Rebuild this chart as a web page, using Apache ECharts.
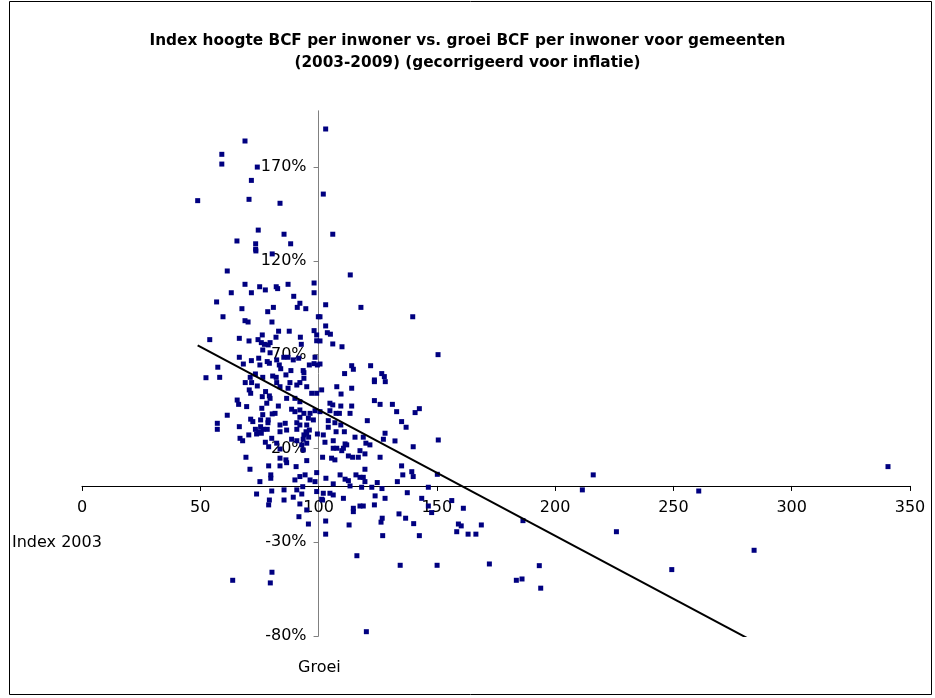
<!DOCTYPE html>
<html>
<head>
<meta charset="utf-8">
<script src="https://cdn.jsdelivr.net/npm/echarts@6/dist/echarts.min.js"></script>
<style>
html,body{margin:0;padding:0;background:#fff;}
#chart{width:935px;height:698px;}
</style>
</head>
<body>
<div id="chart"></div>
<script>
// [Index 2003, Groei %]
const pointsUpper = [[68.9,183.9],[59.1,176.8],[59.1,171.6],[74.1,170.0],[71.6,162.9],[48.9,152.1],[70.6,152.8],[83.7,150.7],[74.5,136.4],[65.5,130.6],[73.4,129.1],[85.4,134.2],[88.2,129.1],[73.4,126.2],[103.0,190.3],[102.0,155.6],[106.0,134.2],[73.5,125.3],[80.4,123.7],[61.4,114.6],[68.9,107.5],[75.1,106.2],[77.5,104.5],[71.6,103.0],[63.1,103.0],[82.1,106.2],[82.7,105.2],[87.1,107.5],[98.1,108.2],[98.1,103.0],[89.5,101.1],[113.4,112.5]];
const pointsMid = [[56.9,98.1],[67.6,94.5],[78.5,92.9],[80.9,95.2],[92.1,97.4],[91.0,95.2],[94.6,94.5],[59.6,90.2],[68.9,88.1],[70.2,87.4],[80.3,87.4],[99.9,90.2],[54.0,78.0],[66.5,78.7],[70.6,77.3],[74.4,78.0],[76.2,80.5],[75.8,76.4],[77.1,75.5],[78.7,75.2],[79.5,76.4],[82.0,79.3],[83.1,82.5],[87.6,82.5],[92.3,79.3],[92.7,75.5],[98.1,82.8],[99.2,80.5],[99.2,77.4],[76.4,72.5],[79.5,71.0],[66.5,68.6],[71.6,66.8],[74.7,68.1],[78.3,66.3],[82.3,67.2],[83.4,64.5],[85.3,68.6],[87.1,68.6],[89.3,67.2],[91.6,68.1],[96.1,64.5],[98.1,65.2],[99.5,64.5],[98.5,68.6],[57.4,63.3],[68.2,65.0],[75.2,64.5],[79.2,65.4],[84.0,62.5],[88.3,61.5],[93.5,61.5],[93.8,60.4],[103.0,96.6],[117.9,95.2],[139.8,90.2],[100.6,90.2],[103.0,85.3],[103.7,81.7],[105.0,80.9],[106.0,75.7],[109.9,74.2],[100.6,77.3],[150.5,70.0],[114.0,64.1],[114.7,62.2],[122.0,64.1],[100.6,65.0]];
const pointsCoreLeft = [[52.4,57.7],[58.2,57.9],[71.1,57.9],[76.4,57.9],[80.6,58.6],[82.1,57.9],[86.2,59.2],[93.8,57.4],[73.3,59.7],[69.0,55.1],[71.7,55.1],[74.1,53.3],[70.7,51.2],[71.3,49.4],[77.6,50.3],[82.3,55.1],[83.7,52.9],[87.1,52.1],[87.9,55.1],[90.8,53.8],[92.1,55.1],[97.1,49.4],[99.2,49.4],[95.0,52.9],[76.2,47.6],[79.2,48.0],[79.5,46.7],[86.5,46.7],[90.0,46.7],[92.1,44.9],[65.6,45.8],[66.2,43.5],[69.6,42.3],[76.0,41.4],[78.1,44.1],[83.0,42.6],[88.6,40.9],[90.0,39.6],[92.1,40.5],[93.8,38.7],[96.4,38.7],[98.5,40.1],[61.4,37.7],[76.4,38.0],[80.4,38.4],[81.6,38.7],[92.1,36.6],[95.7,36.1],[71.3,35.6],[72.2,34.3],[75.5,35.2],[78.7,35.2],[57.2,33.4],[57.2,30.2],[66.5,31.6],[75.5,31.6],[78.6,33.7],[83.7,32.5],[85.9,33.4],[90.8,33.7],[92.1,32.5],[95.0,32.5],[97.8,35.2],[73.3,30.2],[74.7,28.9],[76.6,30.2],[78.3,30.2],[83.7,28.9],[86.5,29.8],[90.8,30.2],[94.7,28.9],[96.1,29.8],[70.5,27.2],[73.8,27.7],[75.8,28.1],[93.8,27.2],[95.0,28.1],[99.5,27.7],[66.8,25.4],[67.9,24.1],[80.2,25.4],[88.6,24.9],[90.8,24.1],[93.5,24.9],[95.8,26.0],[77.5,23.3],[82.3,22.8],[92.9,21.9],[95.0,22.8],[78.9,20.9]];
const pointsCoreRight = [[111.0,59.9],[126.7,59.9],[127.8,58.3],[123.6,56.5],[107.7,52.9],[114.0,52.1],[101.3,51.2],[109.5,49.0],[123.6,55.6],[128.2,55.6],[123.6,45.5],[126.0,43.5],[131.2,43.5],[104.8,44.1],[106.0,43.2],[109.4,42.6],[114.0,42.6],[113.3,38.7],[133.0,39.6],[140.8,39.1],[142.6,41.2],[100.6,39.6],[104.8,40.1],[107.4,38.7],[108.8,38.7],[104.1,34.8],[106.9,33.7],[109.4,32.5],[120.6,34.8],[135.1,34.3],[137.0,31.3],[104.1,31.3],[107.4,28.9],[110.9,28.9],[128.1,28.1],[102.0,27.2],[115.4,26.0],[118.9,26.0],[127.4,24.9],[132.3,24.0],[150.6,24.5],[102.7,23.3],[106.2,24.1],[111.2,22.4],[120.0,22.8],[121.7,21.9],[140.0,20.9],[106.2,20.1],[107.7,20.1],[110.5,20.1],[111.9,21.9]];
const pointsLow = [[83.7,19.7],[93.5,19.2],[69.3,15.3],[83.7,14.8],[86.2,13.9],[95.0,13.5],[78.9,10.7],[83.7,10.7],[86.5,12.4],[90.5,10.3],[71.0,8.9],[79.8,5.9],[79.8,4.1],[92.1,5.0],[94.3,5.9],[99.2,7.1],[75.2,2.3],[90.0,3.2],[96.4,3.2],[98.5,2.3],[93.3,-0.4],[73.8,-4.3],[80.2,-2.7],[85.4,-2.1],[90.8,-2.1],[99.2,-3.0],[79.2,-7.5],[85.4,-7.5],[89.3,-6.0],[92.1,-9.6],[78.9,-10.1],[92.9,-4.3],[101.3,-7.1],[117.5,18.8],[119.6,17.1],[126.0,15.3],[112.6,16.0],[114.4,15.3],[116.8,15.3],[109.8,18.8],[105.5,14.8],[106.9,13.9],[101.7,15.3],[135.1,10.7],[119.6,8.9],[139.4,7.6],[140.0,5.0],[135.6,5.9],[150.2,6.2],[109.1,5.9],[115.8,5.9],[117.5,4.6],[118.9,4.6],[133.3,2.3],[103.1,4.1],[111.2,3.6],[112.6,2.8],[119.6,2.3],[124.8,1.8],[106.2,1.1],[113.3,0.0],[118.2,-0.7],[122.5,-0.7],[126.8,-1.4],[146.4,-0.7],[137.5,-3.6],[102.0,-3.9],[104.8,-3.9],[106.2,-4.8],[110.5,-6.6],[123.9,-5.3],[128.1,-6.6],[143.6,-6.6],[156.3,-7.8],[101.7,-7.5],[114.7,-11.9],[117.5,-10.7],[118.9,-10.7],[123.6,-10.1],[146.4,-10.7],[161.2,-11.9]];
const pointsNegative = [[91.7,-16.4],[95.7,-20.3],[95.0,-12.8],[80.3,-46.0],[79.6,-51.7],[63.7,-50.3],[114.7,-13.7],[103.0,-18.7],[103.0,-25.7],[112.9,-20.8],[126.9,-17.2],[126.4,-19.3],[127.1,-26.5],[134.0,-14.9],[136.8,-17.2],[140.2,-20.1],[142.6,-26.5],[147.8,-14.2],[159.1,-20.3],[158.4,-24.4],[116.2,-37.2],[134.5,-42.3],[150.1,-42.3],[120.2,-77.7],[160.3,-21.3],[163.2,-25.7],[166.5,-25.7],[168.8,-20.8],[186.4,-18.5],[172.2,-41.6],[183.6,-50.3],[186.0,-49.6],[193.3,-42.5],[193.9,-54.5]];
const pointsFarRight = [[211.5,-2.1],[216.1,5.9],[225.9,-24.4],[249.3,-44.6],[260.7,-2.7],[284.1,-34.3],[340.7,10.3]];
const trendLine = [[48.9,75.0],[340.7,-121.1]];

const xTicks = {min: 0, max: 350, interval: 50};
const yTicks = {min: -80, max: 200, interval: 50};
const yCrossAtX = 100;
const xCrossAtY = 0;

const titleText = 'Index hoogte BCF per inwoner vs. groei BCF per inwoner voor gemeenten\n(2003-2009) (gecorrigeerd voor inflatie)';
const xAxisTitle = 'Index 2003';
const yAxisTitle = 'Groei';

const allPoints = [].concat(pointsUpper, pointsMid, pointsCoreLeft, pointsCoreRight, pointsLow, pointsNegative, pointsFarRight);

const W = 935, H = 698;
const gridL = 82, gridR = 25, gridT = 110.8, gridB = 62;
const gridW = W - gridL - gridR;
const gridH = H - gridT - gridB;
const yOffset = -gridW * (yCrossAtX - xTicks.min) / (xTicks.max - xTicks.min);
const xOffset = -gridH * (xCrossAtY - yTicks.min) / (yTicks.max - yTicks.min);
const FONT = 'DejaVu Sans';

const chart = echarts.init(document.getElementById('chart'), null, {renderer: 'canvas'});
chart.setOption({
  animation: false,
  backgroundColor: '#fff',
  title: {
    text: titleText,
    left: 'center',
    top: 25,
    textStyle: {fontFamily: FONT, fontSize: 15.3, fontWeight: 'bold', color: '#000', lineHeight: 22}
  },
  grid: {left: gridL, right: gridR, top: gridT, bottom: gridB, containLabel: false},
  xAxis: {
    type: 'value',
    position: 'bottom',
    offset: xOffset,
    min: xTicks.min, max: xTicks.max, interval: xTicks.interval,
    splitLine: {show: false},
    axisLine: {show: true, onZero: false, lineStyle: {color: '#000', width: 1}},
    axisTick: {show: true, length: 5, lineStyle: {color: '#000'}},
    axisLabel: {fontFamily: FONT, fontSize: 16, color: '#000', margin: 14}
  },
  yAxis: {
    type: 'value',
    position: 'left',
    min: yTicks.min, max: yTicks.max, interval: yTicks.interval,
    offset: yOffset,
    splitLine: {show: false},
    axisLine: {show: true, onZero: false, lineStyle: {color: '#808080', width: 1}},
    axisTick: {show: true, length: 5, lineStyle: {color: '#808080'}},
    axisLabel: {fontFamily: FONT, fontSize: 16, color: '#000', margin: 12, showMaxLabel: false,
      formatter: v => v + '%'}
  },
  graphic: [
    {type: 'rect', shape: {x: 9.5, y: 1.5, width: 922, height: 693}, style: {fill: 'none', stroke: '#000', lineWidth: 1}, silent: true},
    {type: 'text', left: 12, top: 535, style: {text: xAxisTitle, fontFamily: FONT, fontSize: 16, fill: '#000'}},
    {type: 'text', left: 298, top: 660, style: {text: yAxisTitle, fontFamily: FONT, fontSize: 16, fill: '#000'}}
  ],
  series: [
    {
      type: 'scatter',
      data: allPoints,
      symbol: 'rect',
      symbolSize: 5,
      itemStyle: {color: '#000080', opacity: 1},
      z: 2
    },
    {
      type: 'line',
      data: trendLine,
      showSymbol: false,
      symbol: 'none',
      clip: true,
      lineStyle: {color: '#000', width: 2},
      z: 3
    }
  ]
});
</script>
</body>
</html>
